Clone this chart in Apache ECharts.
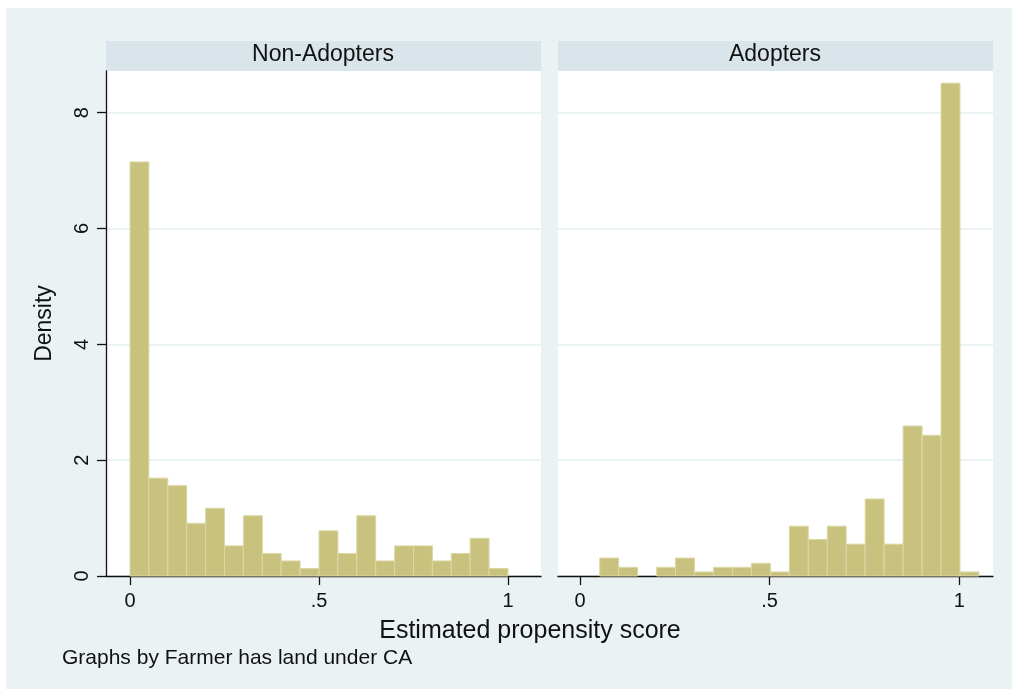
<!DOCTYPE html>
<html lang="en">
<head>
    <meta charset="UTF-8">
    <title>Propensity score histograms</title>
    <script src="https://cdn.jsdelivr.net/npm/echarts@6/dist/echarts.min.js"></script>
    <style>
        html, body { margin: 0; padding: 0; background: #ffffff; }
        #main { position: absolute; left: 6px; top: 8px; width: 1006px; height: 681px; }
    </style>
</head>
<body>
<div id="main"></div>

<script type="text/javascript">
    // histogram bins (left edge of each bin), width 0.05
    var binWidth = 0.05;
    var nonAdoptBins = [0, 0.05, 0.1, 0.15, 0.2, 0.25, 0.3, 0.35, 0.4, 0.45,
        0.5, 0.55, 0.6, 0.65, 0.7, 0.75, 0.8, 0.85, 0.9, 0.95];
    var adoptBins = [0.052, 0.102, 0.152, 0.202, 0.252, 0.302, 0.352, 0.402, 0.452, 0.502,
        0.552, 0.602, 0.652, 0.702, 0.752, 0.802, 0.852, 0.902, 0.952, 1.002];
    // density
    var nonAdoptDensity = [7.15, 1.69, 1.56, 0.91, 1.17, 0.52, 1.04, 0.39, 0.26, 0.13,
        0.78, 0.39, 1.04, 0.26, 0.52, 0.52, 0.26, 0.39, 0.65, 0.13];
    var adoptDensity = [0.31, 0.15, 0, 0.15, 0.31, 0.07, 0.15, 0.15, 0.22, 0.07,
        0.86, 0.63, 0.86, 0.55, 1.33, 0.55, 2.59, 2.43, 8.51, 0.07];
    var panelNames = ['Non-Adopters', 'Adopters'];
    var xTicks = [0, 0.5, 1];
    var xTickLabels = ['0', '.5', '1'];
    var yTicks = [0, 2, 4, 6, 8];

    var font = 'Liberation Sans, Arial, sans-serif';
    var txt = '#111111';

    function toBars(bins, dens) {
        var out = [];
        for (var i = 0; i < bins.length; i++) {
            if (dens[i] > 0) out.push([bins[i], bins[i] + binWidth, dens[i]]);
        }
        return out;
    }

    function renderBar(params, api) {
        var p0 = api.coord([api.value(0), api.value(2)]);
        var p1 = api.coord([api.value(1), 0]);
        return {
            type: 'rect',
            shape: {x: p0[0], y: p0[1], width: p1[0] - p0[0], height: p1[1] - p0[1]},
            style: {fill: '#c9c27e', stroke: '#dcd8a6', lineWidth: 1}
        };
    }

    function xAxisFor(idx, min, max) {
        return {
            type: 'value',
            gridIndex: idx,
            min: min,
            max: max,
            axisLine: {show: true, onZero: false, lineStyle: {color: '#111', width: 1.3}},
            axisTick: {show: true, length: 9, customValues: xTicks, lineStyle: {color: '#111', width: 1.3}},
            axisLabel: {
                customValues: xTicks,
                margin: 15,
                color: txt,
                fontFamily: font,
                fontSize: 20,
                formatter: function (v) {
                    return xTickLabels[xTicks.indexOf(v)];
                }
            },
            splitLine: {show: false}
        };
    }

    function yAxisFor(idx, showAxis) {
        return {
            type: 'value',
            gridIndex: idx,
            min: 0,
            max: 8.72,
            interval: 2,
            name: showAxis ? 'Density' : '',
            nameLocation: 'middle',
            nameGap: 50,
            nameTextStyle: {color: txt, fontFamily: font, fontSize: 23},
            axisLine: {show: showAxis, onZero: false, lineStyle: {color: '#111', width: 1.3}},
            axisTick: {show: showAxis, length: 9, customValues: yTicks, lineStyle: {color: '#111', width: 1.3}},
            axisLabel: {
                show: showAxis,
                customValues: yTicks,
                rotate: 90,
                margin: 14,
                color: txt,
                fontFamily: font,
                fontSize: 20
            },
            splitLine: {show: true, lineStyle: {color: '#eaf2f3', width: 2}}
        };
    }

    var myChart = echarts.init(document.getElementById('main'));
    var option = {
        backgroundColor: '#eaf2f3',
        animation: false,
        grid: [
            {left: 100, top: 63, width: 435, height: 505, show: true, backgroundColor: '#ffffff', borderWidth: 0},
            {left: 552, top: 63, width: 435, height: 505, show: true, backgroundColor: '#ffffff', borderWidth: 0}
        ],
        xAxis: [
            xAxisFor(0, -0.0635, 1.0873),
            xAxisFor(1, -0.058, 1.089)
        ],
        yAxis: [
            yAxisFor(0, true),
            yAxisFor(1, false)
        ],
        graphic: [
            {type: 'rect', shape: {x: 100, y: 33, width: 435, height: 30}, style: {fill: '#d9e5ea'}},
            {type: 'rect', shape: {x: 552, y: 33, width: 435, height: 30}, style: {fill: '#d9e5ea'}},
            {type: 'text', x: 317, y: 47, style: {text: panelNames[0], fill: txt, font: '23px ' + font, textAlign: 'center', textVerticalAlign: 'middle'}},
            {type: 'text', x: 769, y: 47, style: {text: panelNames[1], fill: txt, font: '23px ' + font, textAlign: 'center', textVerticalAlign: 'middle'}},
            {type: 'text', x: 524, y: 623, style: {text: 'Estimated propensity score', fill: txt, font: '25px ' + font, textAlign: 'center', textVerticalAlign: 'middle'}},
            {type: 'text', x: 56, y: 650, style: {text: 'Graphs by Farmer has land under CA', fill: txt, font: '21px ' + font, textAlign: 'left', textVerticalAlign: 'middle'}}
        ],
        series: [
            {type: 'custom', xAxisIndex: 0, yAxisIndex: 0, renderItem: renderBar, data: toBars(nonAdoptBins, nonAdoptDensity)},
            {type: 'custom', xAxisIndex: 1, yAxisIndex: 1, renderItem: renderBar, data: toBars(adoptBins, adoptDensity)}
        ]
    };
    myChart.setOption(option);
</script>
</body>
</html>
